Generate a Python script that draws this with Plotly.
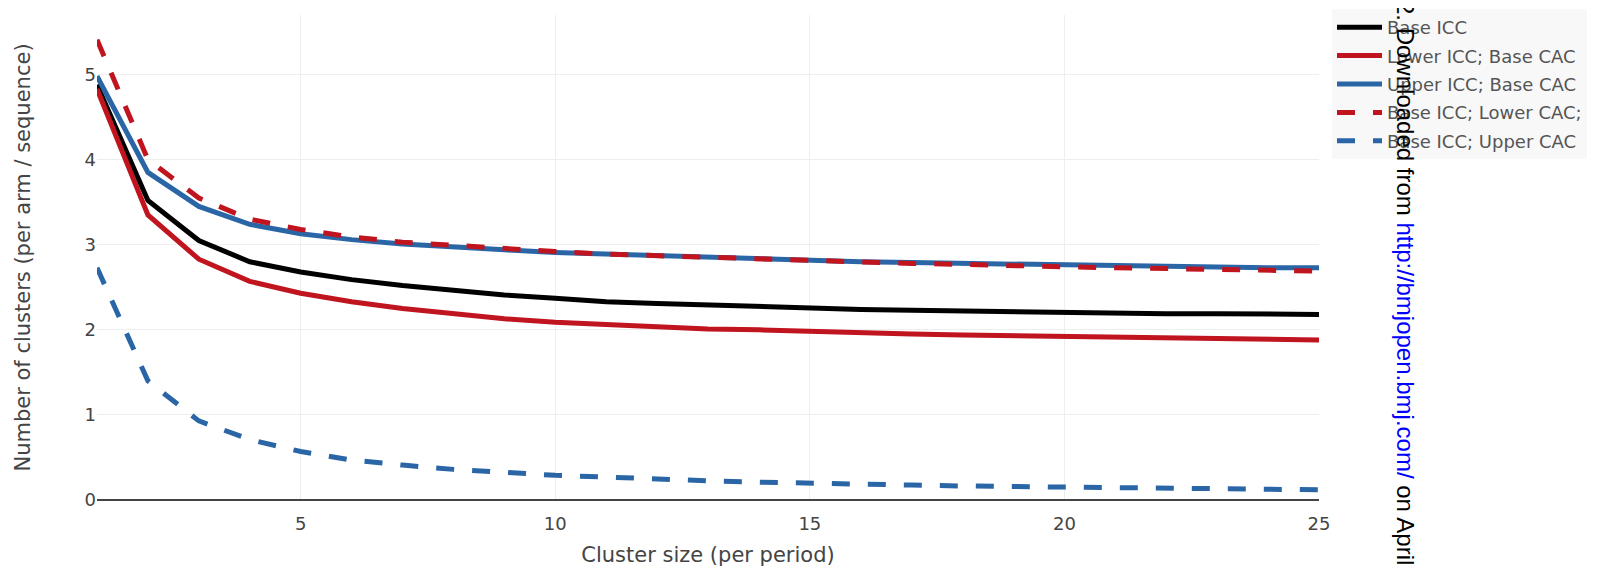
import plotly.graph_objects as go

cluster_size = list(range(1, 26))

base_icc = [4.88, 3.52, 3.05, 2.80, 2.68, 2.59, 2.52, 2.46, 2.41, 2.37, 2.33, 2.31, 2.29,
            2.27, 2.26, 2.24, 2.23, 2.22, 2.21, 2.21, 2.20, 2.19, 2.19, 2.18, 2.18]
lower_icc_base_cac = [4.83, 3.35, 2.83, 2.57, 2.43, 2.33, 2.25, 2.19, 2.13, 2.09, 2.06, 2.03, 2.01,
                      2.00, 1.98, 1.97, 1.95, 1.94, 1.93, 1.92, 1.91, 1.90, 1.89, 1.89, 1.88]
upper_icc_base_cac = [4.98, 3.85, 3.45, 3.24, 3.13, 3.06, 3.01, 2.97, 2.94, 2.91, 2.89, 2.87, 2.85,
                      2.83, 2.81, 2.80, 2.79, 2.78, 2.77, 2.76, 2.75, 2.74, 2.74, 2.73, 2.73]
base_icc_lower_cac = [5.41, 4.00, 3.55, 3.30, 3.18, 3.09, 3.03, 2.99, 2.95, 2.92, 2.89, 2.87, 2.85,
                      2.83, 2.81, 2.79, 2.78, 2.77, 2.75, 2.74, 2.73, 2.72, 2.71, 2.70, 2.69]
base_icc_upper_cac = [2.73, 1.40, 0.93, 0.71, 0.57, 0.47, 0.41, 0.36, 0.325, 0.29, 0.27, 0.245, 0.225,
                      0.21, 0.195, 0.185, 0.175, 0.165, 0.16, 0.15, 0.145, 0.14, 0.13, 0.125, 0.12]

series_names = ["Base ICC", "Lower ICC; Base CAC", "Upper ICC; Base CAC",
                "Base ICC; Lower CAC;", "Base ICC; Upper CAC"]
series_values = [base_icc, lower_icc_base_cac, upper_icc_base_cac,
                 base_icc_lower_cac, base_icc_upper_cac]
series_colors = ["#000000", "#c0141f", "#2a66a6", "#c0141f", "#2a66a6"]
series_dash = ["solid", "solid", "solid", "18px,18px", "18px,18px"]

FONT = "DejaVu Sans, Verdana, sans-serif"

fig = go.Figure()
for i, (name, vals, col, dash) in enumerate(zip(series_names, series_values, series_colors, series_dash)):
    fig.add_trace(go.Scatter(
        x=cluster_size, y=vals, mode="lines", name=name,
        legendgroup=f"g{i}",
        line=dict(color=col, width=5, dash=dash),
    ))

fig.update_layout(
    width=1600, height=572,
    margin=dict(l=89, r=289, t=7, b=80, autoexpand=False),
    paper_bgcolor="white", plot_bgcolor="white",
    font=dict(family=FONT, color="#444"),
    showlegend=True,
    legend=dict(
        xref="container", yref="container",
        x=1324 / 1600, y=1 - 1 / 572, xanchor="left", yanchor="top",
        font=dict(family=FONT, size=18, color="#555"),
        bgcolor="#f8f8f8",
        itemwidth=45,
        tracegroupgap=2,
        traceorder="grouped",
    ),
    xaxis=dict(
        range=[1, 25],
        tickvals=[5, 10, 15, 20, 25],
        automargin=False,
        showgrid=True, gridcolor="#eeeeee", gridwidth=1,
        zeroline=False, showline=False,
        ticks="outside", ticklen=7, tickcolor="rgba(0,0,0,0)",
        tickfont=dict(family=FONT, size=18, color="#444"),
        title=dict(text="Cluster size (per period)", standoff=14,
                   font=dict(family=FONT, size=21, color="#444")),
    ),
    yaxis=dict(
        range=[0, 5.7],
        tickvals=[0, 1, 2, 3, 4, 5],
        automargin=False,
        showgrid=True, gridcolor="#eeeeee", gridwidth=1,
        zeroline=True, zerolinecolor="#444", zerolinewidth=1.5,
        showline=False,
        tickfont=dict(family=FONT, size=18, color="#444"),
        title=dict(text="Number of clusters (per arm / sequence)", standoff=48,
                   font=dict(family=FONT, size=21, color="#444")),
    ),
)

fig.add_annotation(
    text="2. Downloaded from <span style='color:#0000ff'>http://bmjopen.bmj.com/</span> on April",
    xref="paper", yref="paper",
    x=(1398 - 89) / 1222, y=(492 - 275) / 485,
    xanchor="center", yanchor="middle",
    showarrow=False, textangle=90,
    font=dict(family="Liberation Sans, Arial, sans-serif", size=24, color="#000000"),
)

fig.write_html("out.html")
